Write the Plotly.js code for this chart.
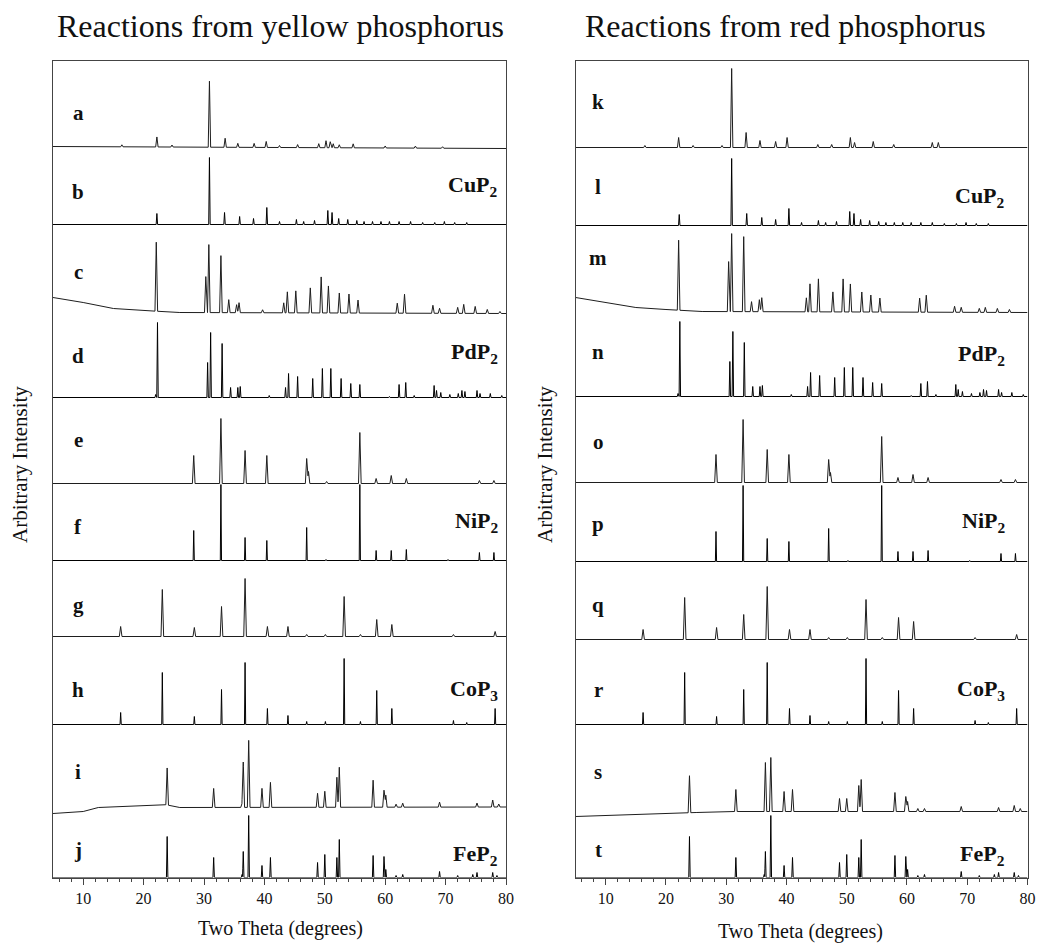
<!DOCTYPE html>
<html>
<head>
<meta charset="utf-8">
<script src="https://cdn.plot.ly/plotly-3.0.1.min.js"></script>
<style>html,body{margin:0;padding:0;background:#fff;}#chart{width:1038px;height:946px;}</style>
</head>
<body>
<div id="chart"></div>
<script>
// ---------------- DATA ----------------
// Reference (simulated) patterns, shared by both panels
const refCuP2_pos = [22.2, 30.9, 33.4, 35.9, 38.2, 40.4, 42.5, 45.3, 46.5, 48.3, 50.5, 51.2, 52.3, 53.8, 55.3, 56.5, 57.9, 59.3, 60.7, 62.3, 64.2, 66.2, 68.2, 69.8, 71.5, 73.5];
const refCuP2_h   = [11, 67, 12, 8, 6, 17, 3, 5, 3, 4, 14, 12, 6, 5, 4, 3, 3, 3, 3, 3, 3, 2, 2, 3, 2, 2];
const refPdP2_pos = [22.0, 22.3, 30.6, 31.1, 33.0, 34.4, 35.6, 36.0, 40.8, 43.5, 44.0, 45.5, 48.0, 49.6, 51.0, 52.7, 54.3, 55.8, 60.7, 62.3, 63.4, 64.8, 68.1, 68.5, 69.2, 70.7, 72.1, 72.7, 73.2, 75.2, 75.7, 77.4, 79.3];
const refPdP2_h   = [3, 75, 35, 65, 54, 10, 10, 11, 2, 10, 24, 21, 19, 29, 29, 19, 14, 13, 1, 13, 15, 2, 12, 7, 5, 3, 4, 7, 6, 7, 4, 4, 2];
const refNiP2_pos = [28.3, 32.8, 36.8, 40.4, 47.0, 50.2, 55.8, 58.5, 61.0, 63.5, 70.4, 75.6, 78.0];
const refNiP2_h   = [30, 76, 23, 20, 33, 1, 76, 10, 10, 11, 1, 8, 8];
const refCoP3_pos = [16.2, 23.1, 28.4, 32.9, 36.8, 40.5, 43.9, 47.0, 50.1, 53.2, 55.9, 58.6, 61.1, 71.3, 73.5, 78.2];
const refCoP3_h   = [12, 52, 8, 35, 62, 16, 9, 3, 3, 66, 3, 34, 16, 4, 2, 16];
const refFeP2_pos = [23.9, 31.6, 36.3, 36.5, 37.4, 39.6, 41.0, 48.8, 50.0, 52.0, 52.4, 58.0, 59.8, 60.1, 61.8, 62.9, 69.0, 72.0, 74.5, 75.2, 77.8, 78.5];
const refFeP2_h   = [41, 20, 3, 26, 62, 12, 20, 15, 23, 20, 38, 22, 21, 8, 2, 3, 6, 2, 3, 5, 5, 2];

// Yellow phosphorus products (left panel)
const a_pos = [16.4, 22.2, 24.7, 30.9, 33.5, 35.6, 38.3, 40.3, 42.5, 45.5, 49.0, 50.2, 50.9, 51.4, 52.4, 54.7, 60.0, 65.0, 69.5];
const a_h   = [2, 10, 2, 66, 9, 4, 4, 6, 2, 3, 4, 7, 6, 4, 3, 4, 2, 2, 1.5];
const a_bgx = [5, 80];  const a_bgy = [1, -1];
const c_pos = [22.1, 30.3, 30.8, 32.8, 34.1, 35.4, 35.8, 39.7, 43.2, 43.8, 45.2, 47.6, 49.4, 50.6, 52.4, 54.0, 55.5, 62.0, 63.2, 67.9, 69.0, 72.0, 73.0, 74.9, 76.9, 79.0];
const c_h   = [69, 36, 68, 57, 13, 8, 10, 3, 10, 21, 22, 25, 36, 27, 20, 19, 13, 10, 19, 8, 5, 6, 9, 7, 4, 2];
const c_bgx = [5, 10, 15, 20, 26, 80];  const c_bgy = [16, 11, 5, 3, 1, 0];
const e_pos = [28.3, 32.8, 36.8, 40.4, 47.0, 47.3, 50.3, 55.8, 58.5, 61.0, 63.5, 75.6, 78.0];
const e_h   = [28, 65, 33, 28, 25, 12, 2, 51, 5, 8, 5, 3, 3];
const e_bgx = [5, 80];  const e_bgy = [0, 0];
const g_pos = [16.2, 23.1, 28.4, 32.9, 36.8, 40.5, 43.9, 47.0, 50.1, 53.2, 55.9, 58.6, 61.1, 71.3, 78.2];
const g_h   = [10, 47, 9, 30, 58, 10, 10, 2, 2, 40, 2, 17, 12, 2, 5];
const g_bgx = [5, 80];  const g_bgy = [0, 0];
const i_pos = [23.9, 31.6, 36.3, 36.5, 37.4, 39.6, 41.0, 48.8, 50.0, 52.0, 52.4, 58.0, 59.8, 60.1, 61.8, 62.9, 69.0, 75.2, 77.8, 78.8];
const i_h   = [37, 19, 4, 45, 67, 19, 25, 14, 16, 30, 40, 27, 17, 12, 3, 4, 5, 4, 7, 3];
const i_bgx = [5, 10, 12.5, 16, 22, 23.5, 26, 80];  const i_bgy = [-6, -4, 0, 1, 3, 3, 0, 0.5];

// Red phosphorus products (right panel)
const k_pos = [16.5, 22.1, 24.5, 29.3, 30.9, 33.3, 35.6, 38.2, 40.1, 45.2, 47.5, 50.6, 51.3, 54.4, 57.8, 64.2, 65.2];
const k_h   = [2, 10, 2, 2, 79, 15, 7, 6, 10, 3, 3, 10, 5, 6, 3, 5, 5];
const k_bgx = [5, 80];  const k_bgy = [0, 0];
const m_pos = [22.1, 30.4, 30.9, 32.9, 34.2, 35.5, 35.9, 43.3, 43.9, 45.3, 47.7, 49.4, 50.6, 52.5, 54.0, 55.5, 62.1, 63.2, 67.9, 69.0, 72.0, 73.0, 75.0, 77.0];
const m_h   = [70, 50, 78, 75, 10, 12, 14, 14, 28, 33, 20, 33, 28, 20, 17, 14, 14, 17, 6, 5, 4, 5, 4, 3];
const m_bgx = [5, 10, 15, 20, 26, 80];  const m_bgy = [15, 10, 5, 3, 1, 0];
const o_pos = [28.3, 32.8, 36.8, 40.4, 47.0, 47.3, 55.8, 58.5, 61.0, 63.5, 75.6, 78.0];
const o_h   = [28, 63, 33, 28, 23, 10, 46, 5, 8, 5, 3, 3];
const o_bgx = [5, 80];  const o_bgy = [0, 0];
const q_pos = [16.2, 23.1, 28.4, 32.9, 36.8, 40.5, 43.9, 47.0, 50.1, 53.2, 55.9, 58.6, 61.1, 71.3, 78.2];
const q_h   = [10, 42, 12, 25, 53, 10, 10, 2, 2, 40, 2, 22, 18, 2, 5];
const q_bgx = [5, 80];  const q_bgy = [0, 0];
const s_pos = [23.9, 31.6, 36.5, 37.4, 39.6, 41.0, 48.8, 50.0, 52.0, 52.4, 58.0, 59.8, 60.1, 61.8, 62.9, 69.0, 75.2, 77.8, 78.8];
const s_h   = [37, 22, 49, 54, 20, 22, 13, 13, 26, 32, 19, 15, 10, 3, 3, 5, 4, 6, 3];
const s_bgx = [5, 15, 25, 30, 80];  const s_bgy = [-5, -3, -1, 0, 0];

// Row labels, compound names and vertical stacking offsets (arbitrary intensity units)
const leftLetters  = ['a','b','c','d','e','f','g','h','i','j'];
const rightLetters = ['k','l','m','n','o','p','q','r','s','t'];
const compounds    = ['CuP<sub>2</sub>', 'PdP<sub>2</sub>', 'NiP<sub>2</sub>', 'CoP<sub>3</sub>', 'FeP<sub>2</sub>'];
const leftOffsets  = [730, 653, 564, 480, 394, 317, 241, 153, 70, 0];
const rightOffsets = [730, 652, 565, 481, 395, 316, 238, 153, 66, 0];
const xTicks = [10, 20, 30, 40, 50, 60, 70, 80];

// ---------------- BUILD ----------------
function interp(xs, ys, x) {
  if (x <= xs[0]) return ys[0];
  for (let n = 1; n < xs.length; n++) {
    if (x <= xs[n]) { const t = (x - xs[n-1]) / (xs[n] - xs[n-1]); return ys[n-1] + t * (ys[n] - ys[n-1]); }
  }
  return ys[ys.length - 1];
}
function profile(pos, hts, bgx, bgy, hw, offset) {
  const set = new Set([5, 80].concat(bgx));
  pos.forEach(p => { set.add(+(p - hw).toFixed(4)); set.add(p); set.add(+(p + hw).toFixed(4)); });
  const xs = Array.from(set).filter(x => x >= 5 && x <= 80).sort((u, v) => u - v);
  const ys = xs.map(x => {
    let y = offset + interp(bgx, bgy, x);
    pos.forEach((p, k) => { const d = Math.abs(x - p); if (d < hw) y += hts[k] * (1 - d / hw); });
    return y;
  });
  return {x: xs, y: ys};
}

const flat = [[5, 80], [0, 0]];
const expColor = '#1e1e1e', refColor = '#000';
const leftSets = [
  [a_pos, a_h, a_bgx, a_bgy, 0.2, expColor],
  [refCuP2_pos, refCuP2_h, flat[0], flat[1], 0.12, refColor],
  [c_pos, c_h, c_bgx, c_bgy, 0.22, expColor],
  [refPdP2_pos, refPdP2_h, flat[0], flat[1], 0.12, refColor],
  [e_pos, e_h, e_bgx, e_bgy, 0.22, expColor],
  [refNiP2_pos, refNiP2_h, flat[0], flat[1], 0.1, refColor],
  [g_pos, g_h, g_bgx, g_bgy, 0.22, expColor],
  [refCoP3_pos, refCoP3_h, flat[0], flat[1], 0.1, refColor],
  [i_pos, i_h, i_bgx, i_bgy, 0.22, expColor],
  [refFeP2_pos, refFeP2_h, flat[0], flat[1], 0.12, refColor]
];
const rightSets = [
  [k_pos, k_h, k_bgx, k_bgy, 0.2, expColor],
  [refCuP2_pos, refCuP2_h, flat[0], flat[1], 0.12, refColor],
  [m_pos, m_h, m_bgx, m_bgy, 0.22, expColor],
  [refPdP2_pos, refPdP2_h, flat[0], flat[1], 0.12, refColor],
  [o_pos, o_h, o_bgx, o_bgy, 0.22, expColor],
  [refNiP2_pos, refNiP2_h, flat[0], flat[1], 0.1, refColor],
  [q_pos, q_h, q_bgx, q_bgy, 0.22, expColor],
  [refCoP3_pos, refCoP3_h, flat[0], flat[1], 0.1, refColor],
  [s_pos, s_h, s_bgx, s_bgy, 0.22, expColor],
  [refFeP2_pos, refFeP2_h, flat[0], flat[1], 0.12, refColor]
];

const traces = [];
leftSets.forEach((s, n) => {
  const p = profile(s[0], s[1], s[2], s[3], s[4], leftOffsets[n]);
  traces.push({x: p.x, y: p.y, type: 'scatter', mode: 'lines', xaxis: 'x', yaxis: 'y',
    line: {color: s[5], width: 1}, hoverinfo: 'skip', showlegend: false, name: leftLetters[n]});
});
rightSets.forEach((s, n) => {
  const p = profile(s[0], s[1], s[2], s[3], s[4], rightOffsets[n]);
  traces.push({x: p.x, y: p.y, type: 'scatter', mode: 'lines', xaxis: 'x2', yaxis: 'y2',
    line: {color: s[5], width: 1}, hoverinfo: 'skip', showlegend: false, name: rightLetters[n]});
});

const W = 1038, H = 946;
const px = v => v / W, py = v => 1 - v / H;
const serif = 'Liberation Serif, Times New Roman, serif';
const minorVals = [6,8,12,14,16,18,22,24,26,28,32,34,36,38,42,44,46,48,52,54,56,58,62,64,66,68,72,74,76,78];

function xAxis(l, r, anchor) {
  return {domain: [px(l), px(r)], range: [5, 80], anchor: anchor, showline: true, mirror: true,
    linecolor: '#444', linewidth: 1, ticks: 'outside', ticklen: 6, tickcolor: '#444', tickwidth: 1,
    tickvals: xTicks, ticktext: xTicks.map(String), showgrid: false, zeroline: false,
    minor: {tickvals: minorVals, ticklen: 3, ticks: 'outside', tickcolor: '#444', showgrid: false},
    tickfont: {family: serif, size: 16, color: '#111'}, fixedrange: true};
}
function yAxis(anchor) {
  return {domain: [py(877.5), py(61)], range: [0, 816.5], anchor: anchor, showline: true, mirror: true,
    linecolor: '#444', linewidth: 1, ticks: '', showticklabels: false, showgrid: false, zeroline: false, fixedrange: true};
}

const ann = [];
const letterYL = [113, 192, 272, 356, 440, 527, 605, 690, 772, 850];
const letterYR = [102, 187, 258, 352, 442, 524, 605, 690, 772, 850];
const boldFont = (sz) => ({family: serif, size: sz, color: '#111', weight: 'bold'});
leftLetters.forEach((t, n) => ann.push({text: t, x: px(78), y: py(letterYL[n]), xref: 'paper', yref: 'paper', showarrow: false, xanchor: 'center', yanchor: 'middle', font: boldFont(21)}));
rightLetters.forEach((t, n) => ann.push({text: t, x: px(598), y: py(letterYR[n]), xref: 'paper', yref: 'paper', showarrow: false, xanchor: 'center', yanchor: 'middle', font: boldFont(21)}));
const compYL = [186, 353, 522, 690, 855];
const compYR = [197, 355, 522, 690, 855];
compounds.forEach((t, n) => {
  ann.push({text: t, x: px(500), y: py(compYL[n]), xref: 'paper', yref: 'paper', showarrow: false, xanchor: 'right', yanchor: 'middle', font: boldFont(22)});
  ann.push({text: t, x: px(1007), y: py(compYR[n]), xref: 'paper', yref: 'paper', showarrow: false, xanchor: 'right', yanchor: 'middle', font: boldFont(22)});
});
ann.push({text: 'Reactions from yellow phosphorus', x: px(280), y: py(26), xref: 'paper', yref: 'paper', showarrow: false, xanchor: 'center', yanchor: 'middle', font: {family: serif, size: 32, color: '#111'}});
ann.push({text: 'Reactions from red phosphorus', x: px(785), y: py(26), xref: 'paper', yref: 'paper', showarrow: false, xanchor: 'center', yanchor: 'middle', font: {family: serif, size: 32, color: '#111'}});
ann.push({text: 'Two Theta (degrees)', x: px(280), y: py(928), xref: 'paper', yref: 'paper', showarrow: false, xanchor: 'center', yanchor: 'middle', font: {family: serif, size: 20, color: '#111'}});
ann.push({text: 'Two Theta (degrees)', x: px(800), y: py(931), xref: 'paper', yref: 'paper', showarrow: false, xanchor: 'center', yanchor: 'middle', font: {family: serif, size: 20, color: '#111'}});
ann.push({text: 'Arbitrary Intensity', x: px(20), y: py(465), xref: 'paper', yref: 'paper', showarrow: false, textangle: -90, xanchor: 'center', yanchor: 'middle', font: {family: serif, size: 21, color: '#111'}});
ann.push({text: 'Arbitrary Intensity', x: px(545), y: py(465), xref: 'paper', yref: 'paper', showarrow: false, textangle: -90, xanchor: 'center', yanchor: 'middle', font: {family: serif, size: 21, color: '#111'}});

const layout = {
  width: W, height: H, autosize: false,
  margin: {l: 0, r: 0, t: 0, b: 0, pad: 0},
  paper_bgcolor: '#fff', plot_bgcolor: '#fff',
  showlegend: false,
  xaxis: xAxis(53, 506, 'y'),
  yaxis: yAxis('x'),
  xaxis2: xAxis(575.6, 1027.5, 'y2'),
  yaxis2: yAxis('x2'),
  annotations: ann
};
Plotly.newPlot('chart', traces, layout, {staticPlot: true, displayModeBar: false});
</script>
</body>
</html>
